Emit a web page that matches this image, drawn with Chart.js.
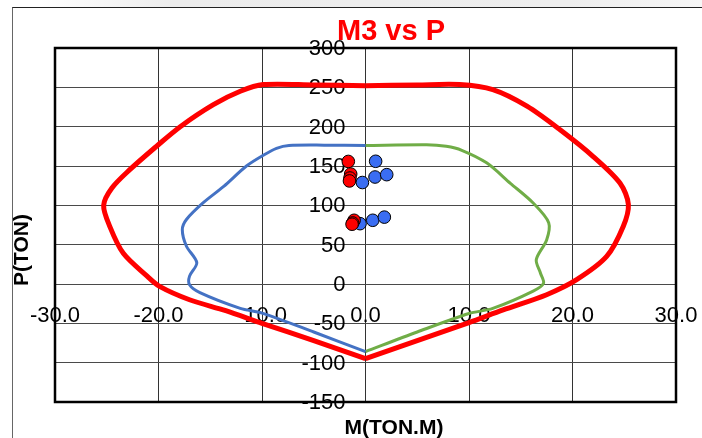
<!DOCTYPE html>
<html>
<head>
<meta charset="utf-8">
<script src="https://cdn.jsdelivr.net/npm/chart.js@4.4.1/dist/chart.umd.min.js"></script>
<style>
  html, body { margin: 0; padding: 0; background: #fff; }
  body { width: 702px; height: 438px; position: relative; overflow: hidden; }
  .shade { position: absolute; left: 40px; top: 0; width: 662px; height: 7px;
           background: linear-gradient(to right, #fff 0%, #ececec 20%, #eeeeee 80%, #f6f6f6 100%); }
  .frame { position: absolute; left: 12px; top: 7px; width: 720px; height: 460px;
           border-left: 1px solid #666; border-top: 1px solid #222; }
  canvas { position: absolute; left: 0; top: 0; }
</style>
</head>
<body>
<div class="shade"></div>
<div class="frame"></div>
<canvas id="pmChart" width="702" height="438"></canvas>
<script>
// Axis ticks
const mTicks = [-30, -20, -10, 0, 10, 20, 30];
const pTicks = [300, 250, 200, 150, 100, 50, 0, -50, -100, -150];

// Outer envelope (red), split at the bottom vertex
const redRightM = [0, -5, -9.9, -12.1, -14.7, -17.9, -20.2, -22.8, -24.5, -25.3, -24.7, -23.4, -21.1, -19.9, -17, -13.5, -10, -5, 0];
const redRightP = [252, 253, 253.5, 245, 228, 200, 175, 145, 122, 100, 73, 39, 10, -3, -20, -34, -50, -72, -95];
const redLeftM = [0, 5, 9.1, 12.3, 15.6, 18.8, 22, 24.6, 25.4, 24.9, 23.3, 20.4, 17.5, 13.3, 10, 5, 0];
const redLeftP = [252, 253, 253.5, 247, 226, 196, 162, 128, 101, 73, 35, 5.5, -13.6, -33, -49, -72, -95];

// Design curve, negative side (blue) and positive side (green)
const blueM = [0, -4, -7.4, -8.6, -9.7, -11.5, -13.7, -15.7, -17.3, -17.7, -17.3, -16.3, -17, -17, -16, -12.1, -10, -5, 0];
const blueP = [176, 176.5, 176, 172.5, 165, 150, 124, 103, 82, 69, 48, 27, 10, -1, -11, -31, -37, -61, -86];
const greenM = [0, 5.9, 7.8, 9.3, 11.7, 14, 16.2, 17.7, 17.5, 16.5, 16.9, 17.2, 16.2, 12.3, 10, 5, 0];
const greenP = [176, 177, 175, 170, 154, 128, 103, 78, 56, 31, 14, 1, -9, -31, -37.5, -61, -86];

// Load points
const redPtsM = [-1.66, -1.43, -1.5, -1.55, -1.1, -1.24, -1.3];
const redPtsP = [155.8, 139.8, 134.7, 131, 81, 77.6, 76];
const bluePtsM = [0.98, 0.92, 2.05, -0.3, -0.53, 0.7, 1.82];
const bluePtsP = [156, 136, 139, 129, 76.7, 81, 85];

const toXY = (ms, ps) => ms.map((m, i) => ({ x: m, y: ps[i] }));

const FONT = '"Liberation Sans", Arial, sans-serif';

const excelText = {
    id: 'excelText',
    beforeDatasetsDraw(chart) {
        const { ctx, scales: { x, y } } = chart;
        ctx.save();
        ctx.fillStyle = '#000';
        ctx.font = '22px ' + FONT;
        // category labels sit on the -50 line
        ctx.textAlign = 'center';
        ctx.textBaseline = 'alphabetic';
        const xLabelY = y.getPixelForValue(-50) - 1;
        mTicks.forEach(v => ctx.fillText(v.toFixed(1), x.getPixelForValue(v), xLabelY));
        // value labels next to the zero line
        ctx.textAlign = 'right';
        ctx.textBaseline = 'middle';
        const yLabelX = x.getPixelForValue(0) - 20;
        pTicks.forEach(v => ctx.fillText(String(v), yLabelX, y.getPixelForValue(v) + 1));
        ctx.restore();
    },
    afterDraw(chart) {
        const { ctx, chartArea: a } = chart;
        ctx.save();
        // plot frame
        ctx.strokeStyle = '#000';
        ctx.lineWidth = 2.5;
        ctx.strokeRect(a.left, a.top, a.right - a.left, a.bottom - a.top);
        // title
        ctx.fillStyle = '#ff0000';
        ctx.font = 'bold 29px ' + FONT;
        ctx.textAlign = 'center';
        ctx.textBaseline = 'middle';
        ctx.fillText('M3 vs P', 391, 32);
        // axis titles
        ctx.fillStyle = '#000';
        ctx.font = 'bold 21px ' + FONT;
        ctx.fillText('M(TON.M)', 394, 428);
        ctx.translate(22, 250);
        ctx.rotate(-Math.PI / 2);
        ctx.fillText('P(TON)', 0, 0);
        ctx.restore();
    }
};

const lineSet = (data, color, width, order) => ({
    data, borderColor: color, backgroundColor: color, borderWidth: width,
    showLine: true, tension: 0.3, pointRadius: 0, pointHoverRadius: 0,
    fill: false, order
});

const pointSet = (data, color, order) => ({
    data, backgroundColor: color, borderColor: '#000', borderWidth: 1,
    pointRadius: 6.3, pointHoverRadius: 6.3, showLine: false, order
});

const ctx = document.getElementById('pmChart').getContext('2d');
new Chart(ctx, {
    type: 'scatter',
    data: {
        datasets: [
            pointSet(toXY(redPtsM, redPtsP), '#ff0000', 0),
            pointSet(toXY(bluePtsM, bluePtsP), '#3a6df2', 1),
            lineSet(toXY(redRightM, redRightP), '#ff0000', 5, 2),
            lineSet(toXY(redLeftM, redLeftP), '#ff0000', 5, 2),
            lineSet(toXY(blueM, blueP), '#4472c4', 3, 3),
            lineSet(toXY(greenM, greenP), '#70ad47', 3, 3)
        ]
    },
    options: {
        responsive: false,
        animation: false,
        layout: { padding: { left: 55, top: 48, right: 26, bottom: 36 } },
        plugins: { legend: { display: false }, tooltip: { enabled: false }, title: { display: false } },
        scales: {
            x: {
                type: 'linear', min: -30, max: 30,
                ticks: { display: false, stepSize: 10 },
                grid: { color: '#333', lineWidth: 1, drawTicks: false },
                border: { display: false }
            },
            y: {
                type: 'linear', min: -150, max: 300,
                ticks: { display: false, stepSize: 50 },
                grid: { color: '#4a4a4a', lineWidth: 1, drawTicks: false },
                border: { display: false }
            }
        }
    },
    plugins: [excelText]
});
</script>
</body>
</html>
